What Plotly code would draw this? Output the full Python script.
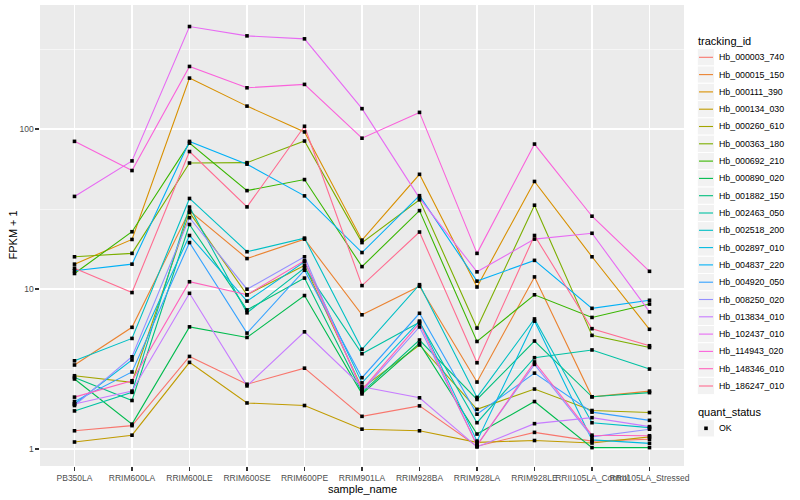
import plotly.graph_objects as go

samples = ["PB350LA", "RRIM600LA", "RRIM600LE", "RRIM600SE", "RRIM600PE",
           "RRIM901LA", "RRIM928BA", "RRIM928LA", "RRIM928LE",
           "RRII105LA_Control", "RRII105LA_Stressed"]

tracking_ids = ["Hb_000003_740", "Hb_000015_150", "Hb_000111_390", "Hb_000134_030",
                "Hb_000260_610", "Hb_000363_180", "Hb_000692_210", "Hb_000890_020",
                "Hb_001882_150", "Hb_002463_050", "Hb_002518_200", "Hb_002897_010",
                "Hb_004837_220", "Hb_004920_050", "Hb_008250_020", "Hb_013834_010",
                "Hb_102437_010", "Hb_114943_020", "Hb_148346_010", "Hb_186247_010"]

colors = ["#F8766D", "#EA8331", "#D89000", "#C09B00", "#A3A500", "#7CAE00", "#39B600",
          "#00BB4E", "#00BF7D", "#00C1A3", "#00BFC4", "#00BAE0", "#00B0F6", "#35A2FF",
          "#9590FF", "#C77CFF", "#E76BF3", "#FA62DB", "#FF62BC", "#FF6C91"]

# FPKM + 1 per sample (order of `samples`)
hb_000003_740 = [1.30, 1.40, 3.79, 2.54, 3.2, 1.6, 1.86, 1.04, 1.27, 1.12, 1.15]
hb_000015_150 = [3.35, 5.76, 30.8, 15.5, 20.5, 6.9, 10.4, 2.62, 11.9, 2.12, 2.3]
hb_000111_390 = [14.3, 20.4, 208, 139, 95.9, 20.2, 52.1, 10.3, 47, 15.9, 5.6]
hb_000134_030 = [1.106, 1.22, 3.48, 1.94, 1.87, 1.33, 1.30, 1.10, 1.13, 1.09, 1.19]
hb_000260_610 = [2.87, 2.61, 30.1, 9.2, 14, 2.4, 4.47, 1.77, 2.37, 1.74, 1.69]
hb_000363_180 = [15.9, 16.7, 61.3, 61.6, 84.1, 19.5, 36.1, 5.7, 33.4, 5.13, 4.31]
hb_000692_210 = [12.5, 22.8, 81.6, 41.2, 48.3, 13.8, 30.9, 4.7, 9.2, 6.64, 8.05]
hb_000890_020 = [2.74, 1.43, 5.8, 4.98, 9.1, 2.21, 4.57, 1.24, 1.98, 1.02, 1.02]
hb_001882_150 = [2.80, 2.01, 25.3, 7.4, 11.7, 2.26, 4.8, 2.04, 4.73, 2.12, 2.25]
hb_002463_050 = [1.73, 2.26, 32.5, 7.1, 13.5, 3.94, 6.2, 1.46, 3.72, 4.16, 3.16]
hb_002518_200 = [3.56, 4.91, 36.8, 17.1, 20.8, 4.2, 10.64, 2.1, 6.5, 1.46, 1.36]
hb_002897_010 = [1.91, 3.6, 21.6, 8.4, 14.8, 2.59, 6.3, 1.12, 6.3, 1.14, 1.085]
hb_004837_220 = [13.0, 14.3, 83.6, 60.3, 38.2, 16.9, 38.3, 11.2, 15.1, 7.57, 8.5]
hb_004920_050 = [1.98, 3.03, 19.5, 5.3, 13.1, 2.79, 7.05, 1.65, 2.98, 1.70, 1.51]
hb_008250_020 = [1.87, 3.77, 27.9, 9.97, 15.9, 2.3, 5.79, 1.06, 3.38, 1.19, 1.33]
hb_013834_010 = [1.91, 2.3, 9.4, 2.48, 5.4, 2.45, 2.09, 1.03, 1.44, 1.57, 1.38]
hb_102437_010 = [37.9, 63.2, 437, 382, 366, 134, 37, 12.8, 20.5, 22.3, 7.2]
hb_114943_020 = [83.7, 55, 246, 181, 190, 87.6, 127, 16.7, 80.5, 28.5, 12.9]
hb_148346_010 = [2.11, 2.67, 11.1, 9.2, 15, 2.34, 6.1, 1.05, 3.5, 1.22, 1.21]
hb_186247_010 = [13.5, 9.5, 72.3, 32.6, 104, 10.5, 22.7, 3.46, 21.6, 5.65, 4.42]

series = [hb_000003_740, hb_000015_150, hb_000111_390, hb_000134_030, hb_000260_610,
          hb_000363_180, hb_000692_210, hb_000890_020, hb_001882_150, hb_002463_050,
          hb_002518_200, hb_002897_010, hb_004837_220, hb_004920_050, hb_008250_020,
          hb_013834_010, hb_102437_010, hb_114943_020, hb_148346_010, hb_186247_010]

y_ticks = [1, 10, 100]
quant_status = ["OK"]

FONT = "Liberation Sans, Arial, sans-serif"

# panel geometry in pixels
PL, PR, PT, PB = 40, 684, 5, 466


def px2x(px):
    return (px - PL) / (PR - PL)


def py2y(py):
    return (PB - py) / (PB - PT)


fig = go.Figure()

for name, vals, col in zip(tracking_ids, series, colors):
    fig.add_trace(go.Scatter(x=samples, y=vals, mode="lines", name=name,
                             line=dict(color=col, width=1.1), showlegend=False,
                             hoverinfo="skip"))

all_x = [s for vals in series for s in samples]
all_y = [v for vals in series for v in vals]
fig.add_trace(go.Scatter(x=all_x, y=all_y, mode="markers", name=quant_status[0],
                         marker=dict(symbol="square", size=3.6, color="black",
                                     line=dict(width=0)),
                         showlegend=False, hoverinfo="skip"))

shapes = []
annotations = []

# legend: tracking_id
annotations.append(dict(x=px2x(696), y=py2y(40.7), xref="paper", yref="paper",
                        text="tracking_id", showarrow=False, xanchor="left",
                        yanchor="middle", font=dict(size=11, color="black", family=FONT)))
for i, (name, col) in enumerate(zip(tracking_ids, colors)):
    cy = 57.3 + 17.3 * i
    shapes.append(dict(type="rect", xref="paper", yref="paper",
                       x0=px2x(697.3), x1=px2x(714.6), y0=py2y(cy - 8.65), y1=py2y(cy + 8.65),
                       fillcolor="#F2F2F2", line=dict(color="white", width=1)))
    shapes.append(dict(type="line", xref="paper", yref="paper",
                       x0=px2x(699), x1=px2x(713), y0=py2y(cy), y1=py2y(cy),
                       line=dict(color=col, width=1.1)))
    annotations.append(dict(x=px2x(716.7), y=py2y(cy), xref="paper", yref="paper",
                            text=name, showarrow=False, xanchor="left", yanchor="middle",
                            font=dict(size=8.8, color="black", family=FONT)))

# legend: quant_status
annotations.append(dict(x=px2x(696), y=py2y(411.7), xref="paper", yref="paper",
                        text="quant_status", showarrow=False, xanchor="left",
                        yanchor="middle", font=dict(size=11, color="black", family=FONT)))
cy = 428.3
shapes.append(dict(type="rect", xref="paper", yref="paper",
                   x0=px2x(697.3), x1=px2x(714.6), y0=py2y(cy - 8.65), y1=py2y(cy + 8.65),
                   fillcolor="#F2F2F2", line=dict(color="white", width=1)))
shapes.append(dict(type="rect", xref="paper", yref="paper",
                   x0=px2x(704.2), x1=px2x(707.8), y0=py2y(cy - 1.8), y1=py2y(cy + 1.8),
                   fillcolor="black", line=dict(width=0)))
annotations.append(dict(x=px2x(716.7), y=py2y(cy), xref="paper", yref="paper",
                        text=quant_status[0], showarrow=False, xanchor="left",
                        yanchor="middle", font=dict(size=8.8, color="black", family=FONT)))

# axis titles
annotations.append(dict(x=0.5, y=py2y(489), xref="paper", yref="paper",
                        text="sample_name", showarrow=False, xanchor="center",
                        yanchor="middle", font=dict(size=11, color="black", family=FONT)))
annotations.append(dict(x=px2x(12), y=0.5, xref="paper", yref="paper",
                        text="FPKM + 1", showarrow=False, textangle=-90,
                        xanchor="center", yanchor="middle",
                        font=dict(size=11, color="black", family=FONT)))

fig.update_layout(
    width=800, height=500,
    margin=dict(l=PL, r=800 - PR, t=PT, b=500 - PB, pad=0),
    plot_bgcolor="#EBEBEB", paper_bgcolor="white",
    showlegend=False, hovermode=False,
    shapes=shapes, annotations=annotations,
    font=dict(family=FONT),
    xaxis=dict(type="category", categoryorder="array", categoryarray=samples,
               range=[-0.6, len(samples) - 0.4],
               showgrid=True, gridcolor="white", gridwidth=1.1, zeroline=False,
               ticks="outside", ticklen=3.6, tickwidth=1.1, tickcolor="#333333",
               tickangle=0, tickfont=dict(size=8.5, color="#4D4D4D", family=FONT),
               showline=False, fixedrange=True),
    yaxis=dict(type="log", range=[-0.10625, 2.775],
               tickmode="array", tickvals=y_ticks, ticktext=[str(t) for t in y_ticks],
               showgrid=True, gridcolor="white", gridwidth=1.1, zeroline=False,
               ticks="outside", ticklen=3.6, tickwidth=1.1, tickcolor="#333333",
               tickfont=dict(size=8.5, color="#4D4D4D", family=FONT),
               minor=dict(tickmode="array", tickvals=[10 ** 0.5, 10 ** 1.5, 10 ** 2.5],
                          showgrid=True, gridcolor="white", gridwidth=0.55, ticks=""),
               showline=False, fixedrange=True),
)

fig.write_html("out.html",
               config={"displayModeBar": False, "staticPlot": True},
               post_script="document.body.style.margin='0px';"
                           "document.body.style.overflow='hidden';")
